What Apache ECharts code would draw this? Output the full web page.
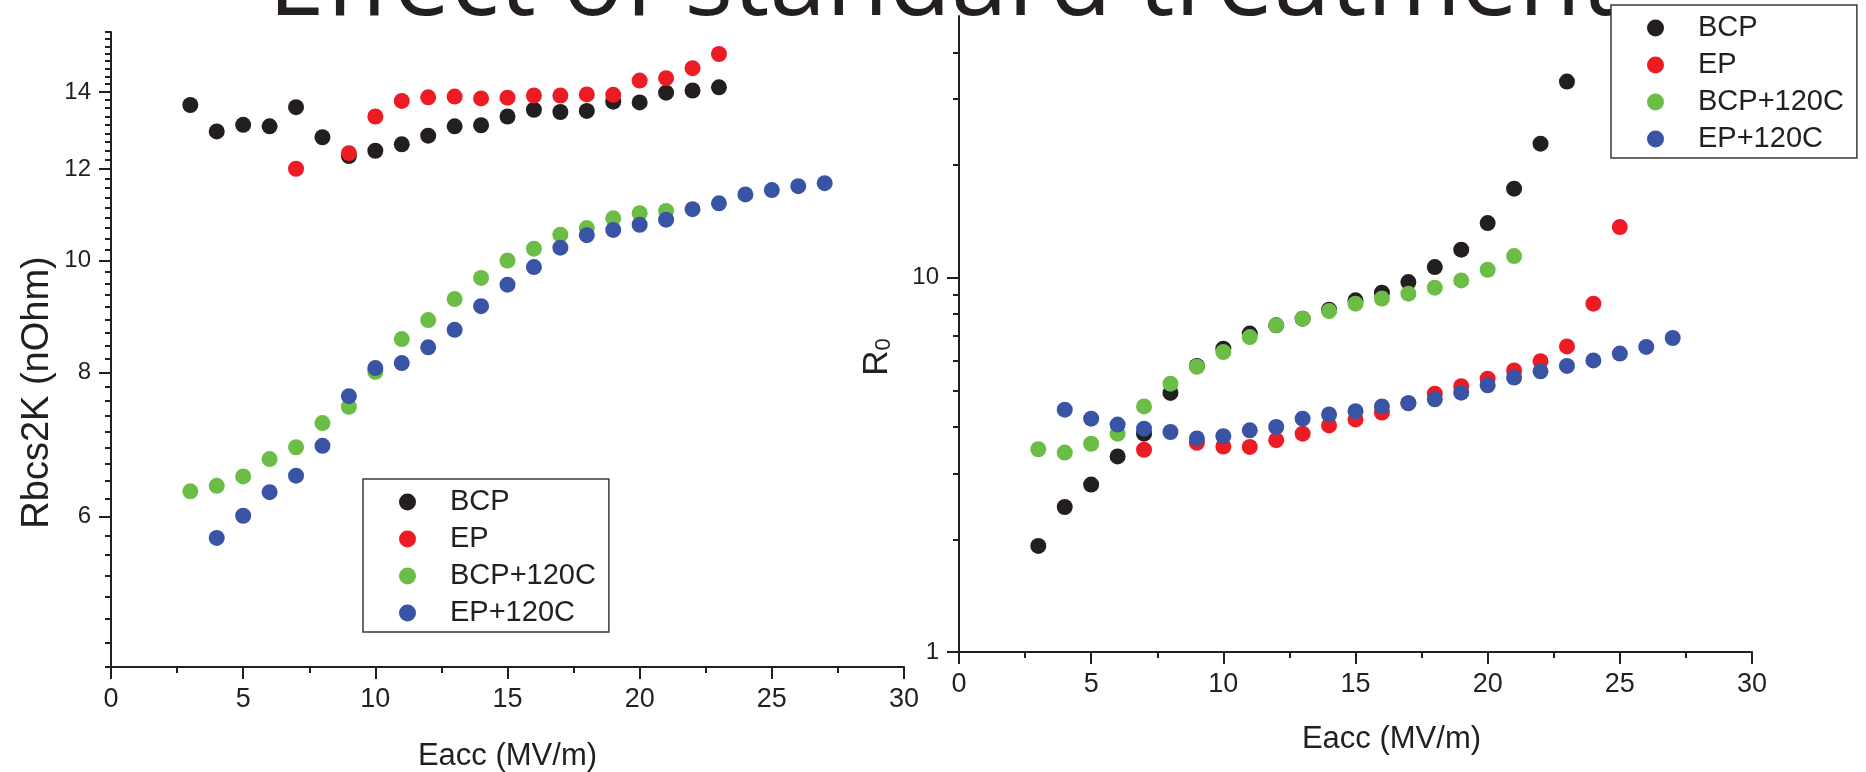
<!DOCTYPE html>
<html><head><meta charset="utf-8">
<script src="https://cdn.jsdelivr.net/npm/echarts@6/dist/echarts.min.js"></script>
<style>html,body{margin:0;padding:0;background:#fff}#c{width:1866px;height:772px}</style>
</head><body><div id="c"></div>
<script>
// ---- series names / colours ----
const seriesNames = ['BCP', 'EP', 'BCP+120C', 'EP+120C'];
const colors = ['#231f20', '#ed1c24', '#6cbd45', '#3953a5'];

// ---- left panel: Rbcs2K (nOhm) vs Eacc (MV/m) ----
const eaccBCP_L = [3,4,5,6,7,8,9,10,11,12,13,14,15,16,17,18,19,20,21,22,23];
const rbcsBCP   = [13.64,12.94,13.11,13.07,13.58,12.79,12.32,12.45,12.61,12.83,13.07,13.10,13.33,13.51,13.45,13.48,13.73,13.71,13.98,14.04,14.13];
const eaccEP_L  = [7,9,10,11,12,13,14,15,16,17,18,19,20,21,22,23];
const rbcsEP    = [12.01,12.39,13.33,13.75,13.85,13.87,13.82,13.84,13.90,13.90,13.93,13.92,14.32,14.39,14.68,15.10];
const eaccBCP120_L = [3,4,5,6,7,8,9,10,11,12,13,14,15,16,17,18,19,20,21];
const rbcsBCP120   = [6.31,6.38,6.50,6.73,6.89,7.23,7.47,8.01,8.55,8.88,9.26,9.66,10.00,10.24,10.53,10.67,10.88,10.99,11.04];
const eaccEP120_L  = [4,5,6,7,8,9,10,11,12,13,14,15,16,17,18,19,20,21,22,23,24,25,26,27];
const rbcsEP120    = [5.75,6.01,6.30,6.51,6.91,7.63,8.07,8.15,8.41,8.71,9.13,9.53,9.87,10.26,10.52,10.63,10.74,10.85,11.08,11.21,11.41,11.51,11.60,11.67];

// ---- right panel: R0 vs Eacc (MV/m) ----
const eaccBCP_R = [3,4,5,6,7,8,9,10,11,12,13,14,15,16,17,18,19,20,21,22,23];
const r0BCP     = [1.92,2.44,2.80,3.33,3.83,4.92,5.81,6.46,7.09,7.46,7.77,8.21,8.70,9.12,9.73,10.67,11.88,13.99,17.29,22.8,33.4];
const eaccEP_R  = [7,9,10,11,12,13,14,15,16,17,18,19,20,21,22,23,24,25];
const r0EP      = [3.47,3.62,3.54,3.53,3.68,3.83,4.03,4.18,4.36,4.62,4.90,5.13,5.37,5.65,5.98,6.55,8.52,13.65];
const eaccBCP120_R = [3,4,5,6,7,8,9,10,11,12,13,14,15,16,17,18,19,20,21];
const r0BCP120     = [3.48,3.41,3.60,3.83,4.53,5.21,5.78,6.33,6.94,7.46,7.77,8.14,8.52,8.79,9.06,9.40,9.83,10.50,11.42];
const eaccEP120_R  = [4,5,6,7,8,9,10,11,12,13,14,15,16,17,18,19,20,21,22,23,24,25,26,27];
const r0EP120      = [4.44,4.20,4.05,3.95,3.87,3.72,3.77,3.91,3.99,4.20,4.31,4.40,4.53,4.62,4.73,4.93,5.16,5.41,5.62,5.81,6.01,6.27,6.53,6.90];

// ---- tick labels ----
const xTicks = [0, 5, 10, 15, 20, 25, 30];
const leftYMajor = [6, 8, 10, 12, 14];
const leftYMin = 4.4444, leftYMax = 15.778;
const rightYMajor = [1, 10];
const rightYMinor = [2, 3, 4, 5, 6, 7, 8, 9, 20, 30, 40];
const rightYMin = 1, rightYMax = 50;

// minor ticks of the left axis: 8 per major interval (step 2/9)
const leftYMinor = [];
for (let k = 0; k <= 51; k++) {
  const v = 4.44444444 + k * 2 / 9;
  if (v > leftYMax) break;
  if (k % 9 !== 7) leftYMinor.push(+v.toFixed(5));
}

const ink = '#231f20';
const fam = 'Liberation Sans, Arial, sans-serif';
const pairs = (xs, ys) => xs.map((x, i) => [x, ys[i]]);

function xAxisDef(gi, gap, pad) {
  return {
    gridIndex: gi, type: 'value', min: xTicks[0], max: xTicks[xTicks.length - 1], interval: 5,
    axisLine: { lineStyle: { color: ink, width: 2 } },
    axisTick: { length: 12, lineStyle: { color: ink, width: 2 } },
    minorTick: { show: true, splitNumber: 2, length: 6, lineStyle: { color: ink, width: 2 } },
    splitLine: { show: false }, minorSplitLine: { show: false },
    axisLabel: { fontSize: 27, margin: 19, color: ink, fontFamily: fam },
    name: 'Eacc (MV/m)', nameLocation: 'middle', nameGap: gap,
    nameTextStyle: { fontSize: 31, color: ink, fontFamily: fam, padding: pad }
  };
}
function yMajorDef(gi, mn, mx, majors, name, gap, pad, fs, rich) {
  return {
    gridIndex: gi, type: 'log', logBase: 10, min: mn, max: mx, position: 'left',
    axisLine: { show: true, lineStyle: { color: ink, width: 2 } },
    axisTick: { show: true, length: 12, customValues: majors, lineStyle: { color: ink, width: 2 } },
    axisLabel: { customValues: majors, fontSize: 24, margin: 20, color: ink, fontFamily: fam },
    splitLine: { show: false }, minorTick: { show: false },
    name: name, nameLocation: 'middle', nameGap: gap, nameRotate: 90,
    nameTextStyle: Object.assign({ fontSize: fs, color: ink, fontFamily: fam, padding: pad }, rich ? { rich: rich } : {})
  };
}
function yMinorDef(gi, mn, mx, minors) {
  return {
    gridIndex: gi, type: 'log', logBase: 10, min: mn, max: mx, position: 'left', offset: 0,
    axisLine: { show: false },
    axisTick: { show: true, length: 6, customValues: minors, lineStyle: { color: ink, width: 2 } },
    axisLabel: { show: false }, splitLine: { show: false }
  };
}

const leftData  = [pairs(eaccBCP_L, rbcsBCP), pairs(eaccEP_L, rbcsEP), pairs(eaccBCP120_L, rbcsBCP120), pairs(eaccEP120_L, rbcsEP120)];
const rightData = [pairs(eaccBCP_R, r0BCP), pairs(eaccEP_R, r0EP), pairs(eaccBCP120_R, r0BCP120), pairs(eaccEP120_R, r0EP120)];

const series = [];
leftData.forEach((d, i) => series.push({
  name: seriesNames[i], type: 'scatter', xAxisIndex: 0, yAxisIndex: 0, data: d,
  symbolSize: 16, itemStyle: { color: colors[i], opacity: 1 }, z: 3 }));
rightData.forEach((d, i) => series.push({
  name: seriesNames[i], type: 'scatter', xAxisIndex: 1, yAxisIndex: 2, data: d,
  symbolSize: 16, itemStyle: { color: colors[i], opacity: 1 }, z: 3 }));

function legendDef(left, top) {
  return {
    data: seriesNames, orient: 'vertical', left: left, top: top, icon: 'circle',
    itemWidth: 17, itemHeight: 17, itemGap: 7, padding: [8, 13, 4, 36],
    borderColor: '#3a3a3a', borderWidth: 1.5, backgroundColor: '#ffffff',
    textStyle: { fontSize: 29, lineHeight: 30, color: ink, fontFamily: fam, padding: [0, 0, 0, 29] },
    selectedMode: false, z: 20
  };
}

const chart = echarts.init(document.getElementById('c'), null, { renderer: 'canvas' });
chart.setOption({
  animation: false,
  backgroundColor: '#ffffff',
  title: {
    text: 'Effect of standard treatment', left: 263, top: -70, z: 5,
    textStyle: { fontFamily: 'Open Sans', fontSize: 102, fontWeight: 'normal', color: ink }
  },
  legend: [legendDef(363, 479), legendDef(1611, 5)],
  grid: [
    { left: 111, top: 32, width: 793, height: 635, outerBoundsMode: 'none', containLabel: false },
    { left: 959, top: 16, width: 793, height: 636, outerBoundsMode: 'none', containLabel: false }
  ],
  xAxis: [xAxisDef(0, 74, [0, 0, 0, 0]), xAxisDef(1, 72, [0, 0, 0, 72])],
  yAxis: [
    yMajorDef(0, leftYMin, leftYMax, leftYMajor, 'Rbcs2K (nOhm)', 54, [0, 86, 0, 0], 38),
    yMinorDef(0, leftYMin, leftYMax, leftYMinor),
    yMajorDef(1, rightYMin, rightYMax, rightYMajor, '{a|R}{b|0}', 64, [0, 46, 0, 0], 35,
      { a: { fontSize: 35, fontFamily: fam, color: ink }, b: { fontSize: 22, fontFamily: fam, color: ink, verticalAlign: 'bottom', padding: [14, 0, 0, 0] } }),
    yMinorDef(1, rightYMin, rightYMax, rightYMinor)
  ],
  series: series
});
</script>
</body></html>
